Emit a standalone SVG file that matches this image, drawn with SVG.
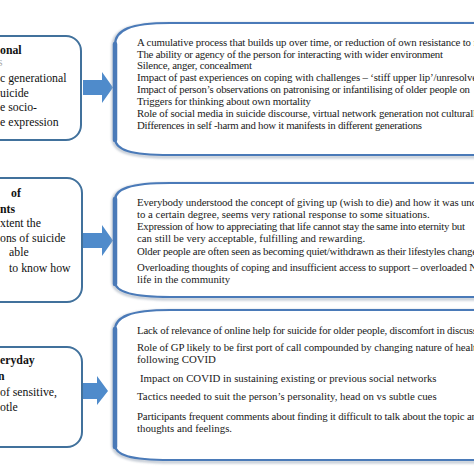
<svg xmlns="http://www.w3.org/2000/svg" width="474" height="474" viewBox="0 0 474 474">
<defs>
<style>
.lbox{fill:#fff;stroke:#41719c;stroke-width:2}
.rbox{fill:#fff;stroke:#4a7ab8;stroke-width:2.2}
.redge{stroke:#4a7ab8;stroke-width:4.5;fill:none;stroke-linecap:round}
.shadow{fill:none;stroke:#9aa6b6;stroke-width:3;opacity:0.6}
.arrow{fill:#4f8bcb}
.lt{font-family:"Liberation Serif","Times New Roman",serif;font-size:11.8px;fill:#111}
.lb{font-family:"Liberation Serif","Times New Roman",serif;font-size:11.8px;font-weight:bold;fill:#111}
.rt{font-family:"Liberation Serif","Times New Roman",serif;font-size:10.8px;fill:#1a1a1a}
</style>
<filter id="blur" x="-10%" y="-10%" width="120%" height="120%"><feGaussianBlur stdDeviation="1"/></filter>
</defs>
<rect width="474" height="474" fill="#fff"/>

<g id="left1">
<rect class="lbox" x="-30" y="36" width="111" height="104" rx="15"/>
<text class="lb" x="0" y="54">onal</text>
<text class="lt" x="-2" y="66" fill-opacity="0.4">s</text>
<text class="lt" x="0" y="82">c generational</text>
<text class="lt" x="0" y="97">uicide</text>
<text class="lt" x="0" y="111">e socio-</text>
<text class="lt" x="0" y="126">e expression</text>
</g>

<g id="left2">
<rect class="lbox" x="-30" y="178" width="112" height="124" rx="15"/>
<text class="lb" x="11" y="197">of</text>
<text class="lb" x="0" y="213">nts</text>
<text class="lt" x="0" y="227">xtent the</text>
<text class="lt" x="0" y="242">ons of suicide</text>
<text class="lt" x="9" y="256">able</text>
<text class="lt" x="9" y="272">to know how</text>
</g>

<g id="left3">
<rect class="lbox" x="-30" y="347" width="112" height="100" rx="15"/>
<text class="lb" x="0" y="364">eryday</text>
<text class="lb" x="-2" y="380">n</text>
<text class="lt" x="0" y="396">of sensitive,</text>
<text class="lt" x="0" y="411">otle</text>
</g>

<g id="connectors">
<polygon class="arrow" points="83,80 102,80 102,72 113,87.5 102,103 102,95 83,95"/>
<polygon class="arrow" points="83,233 102,233 102,225 113,240.5 102,256 102,248 83,248"/>
<polygon class="arrow" points="83,383 97,383 97,376 108,391 97,405 97,399 83,399"/>
</g>

<g id="right1">
<path class="shadow" filter="url(#blur)" d="M480 24 H170 C128 24 113 31 113 47 V138 C113 151 128 157 170 157 H480"/>
<path class="rbox" d="M480 23 H170 C130 23 115 30 115 45 V138 C115 150 130 155 170 155 H480"/>
<line class="redge" x1="115" y1="44" x2="115" y2="140"/>
<text class="rt" x="137" y="46" textLength="340">A cumulative process that builds up over time, or reduction of own resistance to r</text>
<text class="rt" x="137" y="58" textLength="306">The ability or agency of the person for interacting with wider environment</text>
<text class="rt" x="137" y="69" textLength="115">Silence, anger, concealment</text>
<text class="rt" x="137" y="81" textLength="340">Impact of past experiences on coping with challenges – ‘stiff upper lip’/unresolve</text>
<text class="rt" x="137" y="93" textLength="333">Impact of person’s observations on patronising or infantilising of older people on</text>
<text class="rt" x="137" y="105" textLength="174">Triggers for thinking about own mortality</text>
<text class="rt" x="137" y="117" textLength="339">Role of social media in suicide discourse, virtual network generation not culturall</text>
<text class="rt" x="137" y="129" textLength="285">Differences in self -harm and how it manifests in different generations</text>
</g>

<g id="right2">
<path class="shadow" filter="url(#blur)" d="M480 184 H170 C128 184 113 190 113 202 V282 C113 292 128 299 170 299 H480"/>
<path class="rbox" d="M480 183 H170 C130 183 115 189 115 200 V282 C115 291 130 297 170 297 H480"/>
<line class="redge" x1="115" y1="199" x2="115" y2="284"/>
<text class="rt" x="137" y="206" textLength="340">Everybody understood the concept of giving up (wish to die) and how it was und</text>
<text class="rt" x="137" y="218">to a certain degree, seems very rational response to some situations.</text>
<text class="rt" x="137" y="230" textLength="328">Expression of how to appreciating that life cannot stay the same into eternity but</text>
<text class="rt" x="137" y="242">can still be very acceptable, fulfilling and rewarding.</text>
<text class="rt" x="137" y="255" textLength="340">Older people are often seen as becoming quiet/withdrawn as their lifestyles change</text>
<text class="rt" x="137" y="271" textLength="340">Overloading thoughts of coping and insufficient access to support  – overloaded N</text>
<text class="rt" x="137" y="283">life in the community</text>
</g>

<g id="right3">
<path class="shadow" filter="url(#blur)" d="M480 311 H170 C128 311 113 318 113 332 V445 C113 456 128 462 170 462 H480"/>
<path class="rbox" d="M480 310 H170 C130 310 115 317 115 330 V445 C115 455 130 460 170 460 H480"/>
<line class="redge" x1="115" y1="329" x2="115" y2="447"/>
<text class="rt" x="137" y="334" textLength="340">Lack of relevance of online help for suicide for older people, discomfort in discuss</text>
<text class="rt" x="137" y="351" textLength="339">Role of GP likely to be first port of call compounded by changing nature of healt</text>
<text class="rt" x="137" y="363">following COVID</text>
<text class="rt" x="140" y="382">Impact on COVID in sustaining existing or previous social networks</text>
<text class="rt" x="137" y="400">Tactics needed to suit the person’s personality, head on vs subtle cues</text>
<text class="rt" x="137" y="420" textLength="340">Participants frequent comments about finding it difficult to talk about the topic an</text>
<text class="rt" x="137" y="432">thoughts and feelings.</text>
</g>
</svg>
